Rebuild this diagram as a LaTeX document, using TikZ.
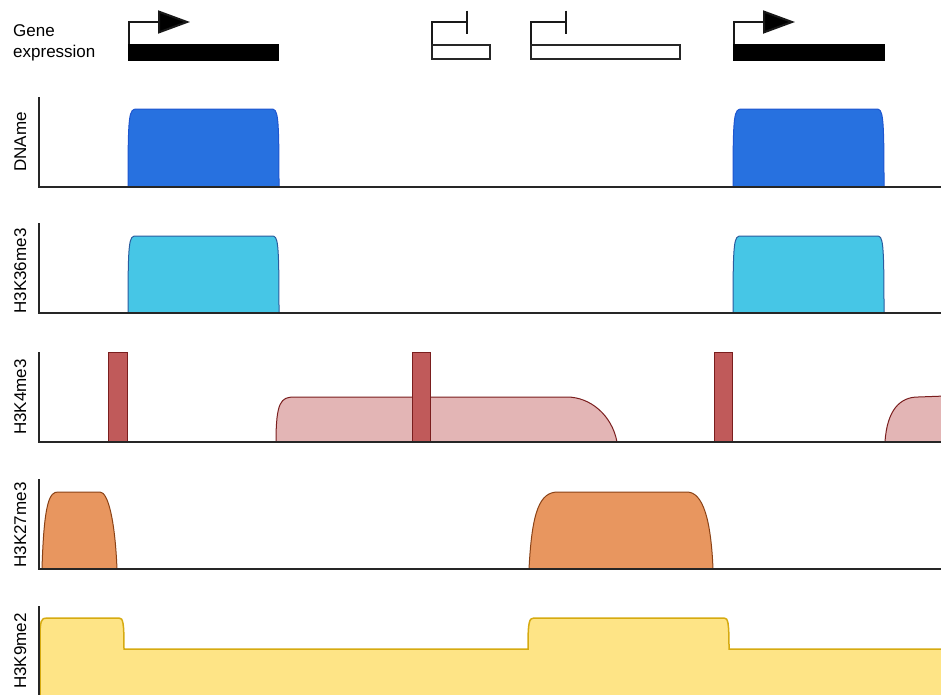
\documentclass[tikz,border=0pt]{standalone}
\usepackage{fontspec}
\setmainfont{Liberation Sans}
\usetikzlibrary{arrows.meta,positioning}
\definecolor{dnafill}{HTML}{2771E0}
\definecolor{dnaline}{HTML}{1E56D0}
\definecolor{ktsfill}{HTML}{46C6E6}
\definecolor{ktsline}{HTML}{2B5C9E}
\definecolor{kfourbar}{HTML}{C05A5A}
\definecolor{kfourfill}{HTML}{E3B5B5}
\definecolor{kfourline}{HTML}{7A1E1E}
\definecolor{ktwsfill}{HTML}{E8965F}
\definecolor{ktwsline}{HTML}{8A4216}
\definecolor{knfill}{HTML}{FEE486}
\definecolor{knline}{HTML}{D6AA10}
\begin{document}
\begin{tikzpicture}[x=1pt,y=-1pt,
		lbl/.style={font=\fontsize{17}{20}\selectfont,inner sep=0pt},
		tracklbl/.style={lbl,rotate=90,anchor=base},
		genebar/.style={anchor=north west,inner sep=0pt,minimum height=17pt,fill=black},
		silentbar/.style={anchor=north west,inner sep=0pt,minimum height=14pt,draw=black!85,line width=2pt,fill=white},
		promoter/.style={draw=black!90,line width=2pt},
		axis/.style={draw=black!85,line width=2pt},
		]
	\useasboundingbox (0,0) rectangle (941,694);
	% gene row
	\node[lbl,anchor=base west] (gene) at (13,36) {Gene};
	\node[lbl,anchor=base west] (expr) at (13,57) {expression};
	\node[genebar,minimum width=151pt] (g1) at (128,44) {};
	\node[silentbar,minimum width=58pt] (g2) at (431,44) {};
	\node[silentbar,minimum width=149pt] (g3) at (530,44) {};
	\node[genebar,minimum width=152pt] (g4) at (733,44) {};
	\coordinate (tss1) at (190,22);
	\coordinate (tss2) at (468,22);
	\coordinate (tss3) at (567,22);
	\coordinate (tss4) at (795,22);
	\draw[promoter,-{Triangle[length=32pt,width=23pt,fill=black]}] ([xshift=1pt]g1.north west) |- (tss1);
	\draw[promoter,-{Bar[width=23pt]}] ([xshift=1pt]g2.north west) |- (tss2);
	\draw[promoter,-{Bar[width=23pt]}] ([xshift=1pt]g3.north west) |- (tss3);
	\draw[promoter,-{Triangle[length=32pt,width=23pt,fill=black]}] ([xshift=1pt]g4.north west) |- (tss4);
	% DNAme
	\filldraw[fill=dnafill,draw=dnaline,line width=1pt]
	(128,187) .. controls (128,112) and (129,109) .. (137,109) -- (271,109)
	.. controls (278,109) and (279,112) .. (279,187) -- cycle
	(733,187) .. controls (733,112) and (734,109) .. (742,109) -- (876,109)
	.. controls (883,109) and (884,112) .. (884,187) -- cycle;
	\draw[axis] (39,97) |- (945,187);
	\node[tracklbl] (dname) at (26,142) {DNAme};
	% H3K36me3
	\filldraw[fill=ktsfill,draw=ktsline,line width=1pt]
	(128,313) .. controls (128,239) and (129,236) .. (136,236) -- (272,236)
	.. controls (278,236) and (279,240) .. (279,313) -- cycle
	(733,313) .. controls (733,239) and (734,236) .. (741,236) -- (877,236)
	.. controls (883,236) and (884,240) .. (884,313) -- cycle;
	\draw[axis] (39,223) |- (945,313);
	\node[tracklbl] (kts) at (26,271) {H3K36me3};
	% H3K4me3
	\filldraw[fill=kfourfill,draw=kfourline,line width=1pt]
	(276,442) .. controls (276,402) and (281,397) .. (294,397) -- (567,397)
	.. controls (590,397) and (612,415) .. (617,442) -- cycle
	(885,442) .. controls (887,410) and (900,397) .. (918,397) -- (945,396) -- (945,442) -- cycle;
	\filldraw[fill=kfourbar,draw=kfourline,line width=1pt]
	(108,352) rectangle (127,442)
	(412,352) rectangle (430,442)
	(714,352) rectangle (732,442);
	\draw[axis] (39,352) |- (945,442);
	\node[tracklbl] (kfour) at (26,397) {H3K4me3};
	% H3K27me3
	\filldraw[fill=ktwsfill,draw=ktwsline,line width=1pt]
	(42,569) .. controls (44,500) and (50,492) .. (58,492) -- (100,492)
	.. controls (108,492) and (115,520) .. (117,569) -- cycle
	(529,569) .. controls (532,510) and (540,492) .. (558,492) -- (687,492)
	.. controls (703,492) and (711,520) .. (713,569) -- cycle;
	\draw[axis] (39,479) |- (945,569);
	\node[tracklbl] (ktws) at (26,525) {H3K27me3};
	% H3K9me2
	\filldraw[fill=knfill,draw=knline,line width=1.5pt]
	(40,700) -- (40,640) .. controls (40,620) and (41,618) .. (47,618) -- (119,618)
	.. controls (123,618) and (124,622) .. (124,649) -- (528,649)
	.. controls (528,622) and (529,618) .. (534,618) -- (724,618)
	.. controls (728,618) and (729,622) .. (729,649) -- (945,649) -- (945,700) -- cycle;
	\draw[axis] (39,606) -- (39,700);
	\node[tracklbl] (kn) at (26,651) {H3K9me2};
\end{tikzpicture}
\end{document}
